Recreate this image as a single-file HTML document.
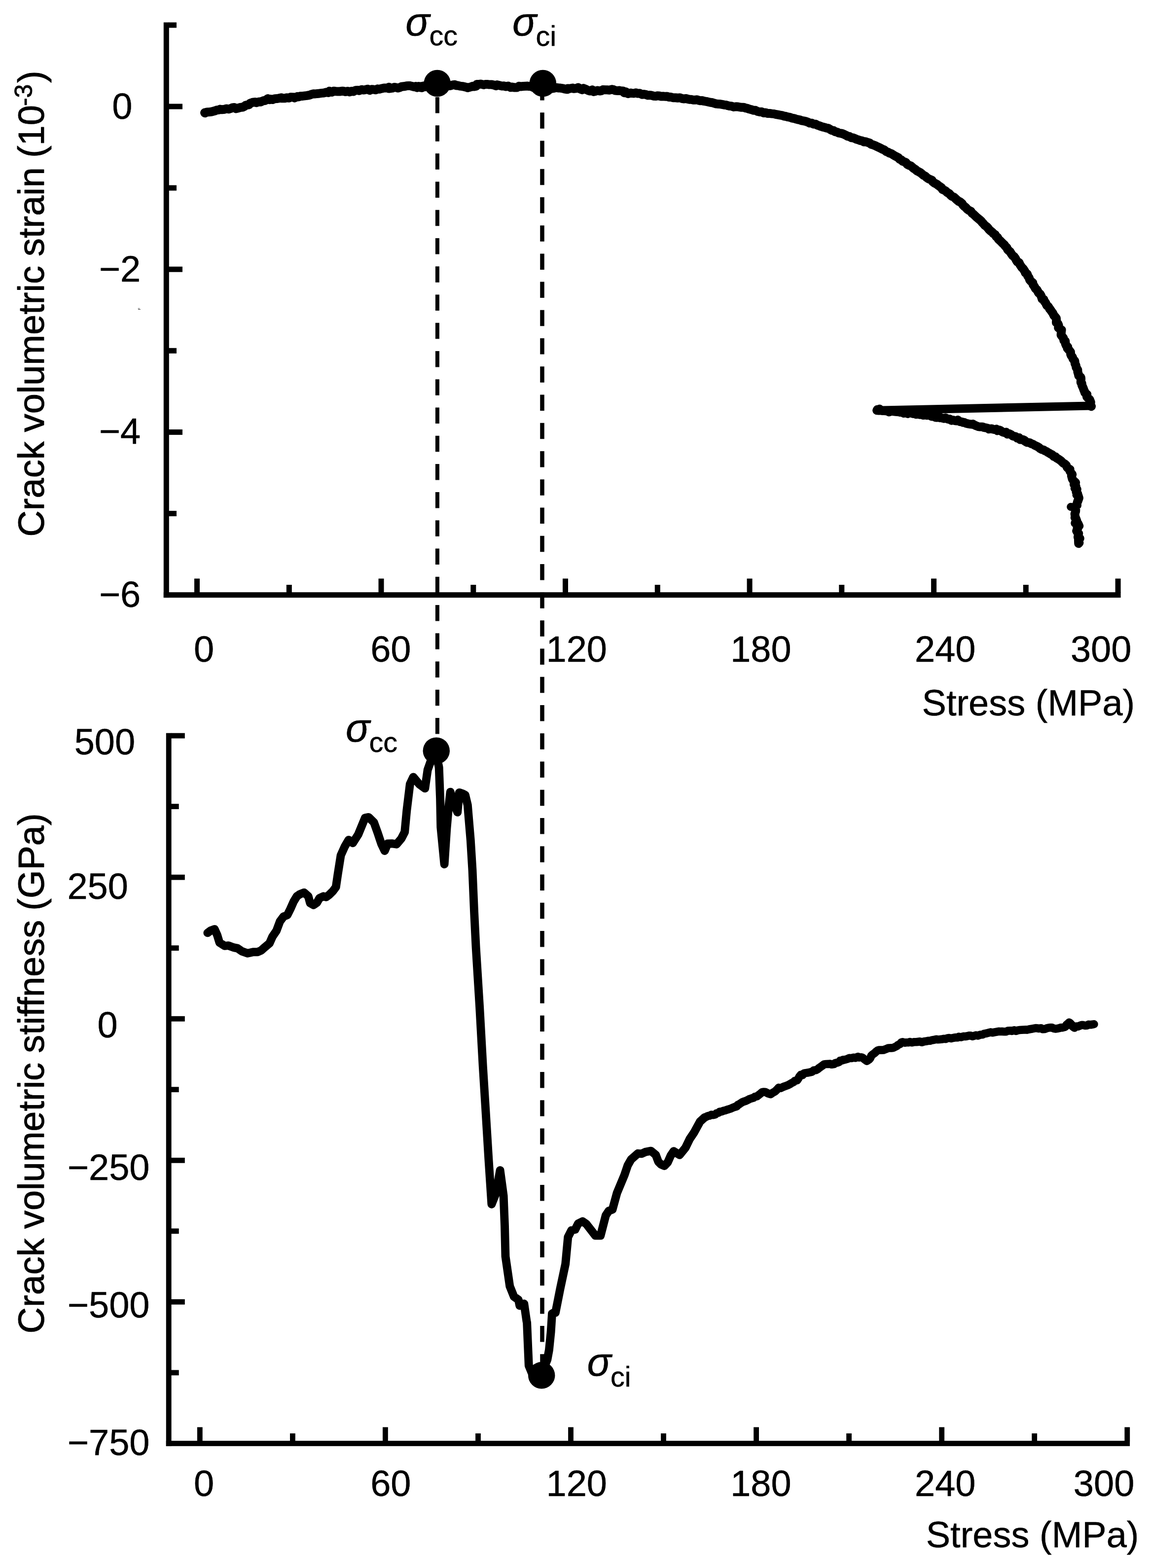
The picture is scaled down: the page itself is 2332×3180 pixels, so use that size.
<!DOCTYPE html>
<html lang="en"><head><meta charset="utf-8"><title>Crack volumetric strain and stiffness</title>
<style>html,body{margin:0;padding:0;background:#fff}body{width:2332px;height:3180px;overflow:hidden}svg{display:block}text{font-family:"Liberation Sans",Arial,Helvetica,sans-serif;fill:#000;stroke:#000;stroke-width:0.5px;stroke-linejoin:round}text.v{stroke-width:0.9px}text.f{stroke:none}</style></head><body>
<svg width="2332" height="3180" viewBox="0 0 2332 3180">
<rect width="2332" height="3180" fill="#fff"/>
<g fill="#000" shape-rendering="auto">
<rect x="331.8" y="45.4" width="11.0" height="1166.7"/>
<rect x="331.8" y="1201.1" width="1940.8" height="11.0"/>
<rect x="342.0" y="45.4" width="16.0" height="11.0"/>
<rect x="342.0" y="210.5" width="28.0" height="11.0"/>
<rect x="342.0" y="375.6" width="16.0" height="11.0"/>
<rect x="342.0" y="540.7" width="28.0" height="11.0"/>
<rect x="342.0" y="705.8" width="16.0" height="11.0"/>
<rect x="342.0" y="870.9" width="28.0" height="11.0"/>
<rect x="342.0" y="1036.0" width="16.0" height="11.0"/>
<rect x="394.0" y="1173.4" width="11.0" height="28.6"/>
<rect x="580.8" y="1186.0" width="11.0" height="16.0"/>
<rect x="767.5" y="1173.4" width="11.0" height="28.6"/>
<rect x="954.3" y="1186.0" width="11.0" height="16.0"/>
<rect x="1141.0" y="1173.4" width="11.0" height="28.6"/>
<rect x="1327.8" y="1186.0" width="11.0" height="16.0"/>
<rect x="1514.6" y="1173.4" width="11.0" height="28.6"/>
<rect x="1701.3" y="1186.0" width="11.0" height="16.0"/>
<rect x="1888.1" y="1173.4" width="11.0" height="28.6"/>
<rect x="2074.8" y="1186.0" width="11.0" height="16.0"/>
<rect x="2261.6" y="1173.4" width="11.0" height="28.6"/>
<rect x="336.8" y="1486.7" width="10.8" height="1446.1"/>
<rect x="336.8" y="2922.0" width="1954.3" height="10.8"/>
<rect x="347.0" y="1486.7" width="27.8" height="10.8"/>
<rect x="347.0" y="1630.2" width="15.7" height="10.8"/>
<rect x="347.0" y="1773.8" width="27.8" height="10.8"/>
<rect x="347.0" y="1917.3" width="15.7" height="10.8"/>
<rect x="347.0" y="2060.8" width="27.8" height="10.8"/>
<rect x="347.0" y="2204.3" width="15.7" height="10.8"/>
<rect x="347.0" y="2347.9" width="27.8" height="10.8"/>
<rect x="347.0" y="2491.4" width="15.7" height="10.8"/>
<rect x="347.0" y="2634.9" width="27.8" height="10.8"/>
<rect x="347.0" y="2778.5" width="15.7" height="10.8"/>
<rect x="399.9" y="2894.4" width="10.8" height="28.6"/>
<rect x="588.0" y="2907.0" width="10.8" height="16.0"/>
<rect x="776.0" y="2894.4" width="10.8" height="28.6"/>
<rect x="964.1" y="2907.0" width="10.8" height="16.0"/>
<rect x="1152.1" y="2894.4" width="10.8" height="28.6"/>
<rect x="1340.1" y="2907.0" width="10.8" height="16.0"/>
<rect x="1528.2" y="2894.4" width="10.8" height="28.6"/>
<rect x="1716.2" y="2907.0" width="10.8" height="16.0"/>
<rect x="1904.3" y="2894.4" width="10.8" height="28.6"/>
<rect x="2092.3" y="2907.0" width="10.8" height="16.0"/>
<rect x="2280.4" y="2894.4" width="10.8" height="28.6"/>
</g>
<g stroke="#000" fill="none">
<path d="M886.9,196.9 V1489" stroke-width="8" stroke-dasharray="32.5 24.73"/>
<path d="M1099.5,171 V2790" stroke-width="8.5" stroke-dasharray="32.5 24.73"/>
</g>
<g stroke="#000" fill="none" stroke-linejoin="round" stroke-linecap="round">
<path stroke-width="18" d="M415.1,228.6 L415.5,229.3 L419.4,227.5 L425.9,227.0 L429.4,226.5 L435.8,224.8 L439.9,223.2 L443.0,223.1 L446.2,221.6 L450.0,222.3 L455.3,221.7 L459.6,220.4 L463.5,221.3 L468.3,219.9 L471.4,218.4 L475.3,217.9 L478.6,220.4 L481.9,219.5 L488.1,217.8 L491.8,217.5 L496.0,215.5 L498.0,213.7 L501.2,212.8 L504.8,212.5 L507.3,209.5 L511.8,207.8 L518.0,207.0 L519.7,208.2 L525.0,206.4 L528.1,206.8 L530.6,205.8 L534.8,204.0 L537.7,204.0 L543.1,200.2 L546.7,202.2 L548.6,201.1 L552.6,202.0 L557.3,200.2 L561.1,200.1 L565.3,199.4 L571.3,198.2 L570.3,199.3 L577.5,199.3 L581.5,198.2 L586.1,198.7 L589.4,197.0 L595.5,197.3 L597.1,198.6 L603.0,195.8 L605.4,196.4 L609.9,194.9 L613.7,194.9 L620.1,194.1 L622.1,193.9 L627.7,192.9 L632.9,190.9 L635.9,190.2 L639.3,190.4 L645.7,189.8 L648.5,189.4 L652.2,188.9 L656.9,188.5 L660.8,187.3 L665.5,187.9 L668.1,184.8 L673.2,187.0 L676.7,184.8 L681.0,185.3 L684.5,185.5 L688.9,185.5 L693.1,184.8 L695.7,184.7 L700.8,186.1 L705.1,185.1 L709.1,186.5 L712.7,184.9 L716.5,185.5 L721.4,183.2 L725.2,182.9 L728.2,183.8 L733.7,181.7 L737.1,182.6 L740.5,182.1 L745.7,180.8 L749.5,183.2 L753.7,181.3 L757.4,181.5 L762.0,182.3 L765.9,180.3 L769.4,180.8 L773.3,179.7 L778.8,178.4 L784.7,178.6 L788.6,176.8 L788.8,179.6 L795.7,178.6 L799.5,177.0 L802.7,177.4 L806.9,178.5 L811.1,177.3 L814.4,175.8 L819.1,175.3 L824.1,174.3 L828.5,173.9 L831.9,174.1 L836.6,175.3 L839.7,176.3 L842.8,175.2 L845.5,177.6 L850.3,176.0 L855.7,177.9 L859.1,175.5 L864.2,175.0 L864.5,173.8 L864.3,175.8 L859.5,174.3 L852.6,175.7 L848.8,175.0 L851.1,176.6 L851.6,177.4 L852.9,176.7 L856.5,176.1 L860.3,176.1 L863.9,175.9 L869.7,175.2 L873.5,175.7 L877.2,175.6 L881.9,175.6 L887.2,173.8 L893.6,174.7 L899.4,174.5 L903.6,172.6 L909.4,173.5 L912.8,174.0 L918.3,172.2 L922.5,171.8 L924.9,173.5 L927.3,173.3 L932.6,174.6 L937.6,175.1 L940.8,175.8 L946.8,177.3 L948.2,178.0 L954.4,176.4 L958.5,174.8 L960.7,175.6 L965.5,174.6 L967.1,171.0 L972.2,170.8 L975.6,170.5 L980.6,172.0 L984.1,171.1 L987.8,170.9 L992.1,171.6 L996.4,171.4 L1002.1,172.6 L1006.0,174.2 L1008.3,172.1 L1014.6,173.8 L1017.8,174.5 L1022.1,174.3 L1026.2,175.6 L1030.6,174.5 L1035.6,177.3 L1037.6,176.5 L1043.6,177.5 L1048.0,177.6 L1052.5,174.7 L1056.2,175.5 L1060.5,175.0 L1065.8,174.7 L1069.7,174.5 L1072.2,175.0 L1075.2,175.0 L1079.5,176.2 L1081.9,177.6 L1087.1,177.3 L1091.8,178.6 L1095.7,177.3 L1097.7,178.4 L1103.8,178.6 L1108.4,179.1 L1112.3,178.5 L1116.1,175.8 L1120.6,179.3 L1123.4,178.9 L1127.8,177.7 L1133.0,178.5 L1136.3,178.6 L1141.5,179.4 L1144.2,180.3 L1150.4,181.3 L1151.5,179.5 L1155.0,179.8 L1161.2,178.5 L1163.3,179.8 L1169.3,179.0 L1172.5,177.6 L1176.2,180.3 L1180.8,182.1 L1183.4,179.2 L1188.6,181.4 L1192.3,183.3 L1196.5,184.6 L1201.2,182.3 L1204.1,185.9 L1207.4,185.0 L1211.6,183.6 L1217.0,184.6 L1219.4,184.0 L1222.5,182.1 L1228.6,182.3 L1230.9,182.3 L1236.1,182.8 L1240.6,181.3 L1243.0,181.6 L1247.3,183.5 L1252.8,184.1 L1255.6,183.6 L1259.9,184.5 L1263.0,184.4 L1266.1,188.2 L1269.2,186.4 L1273.6,189.9 L1279.2,188.6 L1281.5,189.1 L1285.1,189.4 L1289.6,188.2 L1293.3,189.6 L1297.2,189.2 L1302.2,191.7 L1305.6,191.1 L1310.0,191.9 L1313.3,193.4 L1317.1,193.0 L1321.2,193.5 L1325.1,194.7 L1330.0,195.1 L1333.1,194.3 L1336.8,194.5 L1340.8,195.6 L1345.5,195.3 L1348.5,195.7 L1352.7,195.6 L1356.5,196.9 L1360.1,196.7 L1364.8,198.2 L1370.1,198.2 L1374.4,198.7 L1378.7,198.3 L1383.0,199.9 L1386.2,200.5 L1391.1,199.8 L1394.6,200.9 L1398.3,201.7 L1401.6,201.8 L1405.9,202.7 L1409.4,202.7 L1413.4,202.3 L1417.4,203.7 L1420.4,204.3 L1423.6,204.0 L1428.0,205.2 L1432.3,205.8 L1435.2,206.5 L1440.7,207.7 L1443.6,208.0 L1447.5,209.1 L1452.3,210.6 L1456.8,210.9 L1460.0,211.1 L1463.2,211.7 L1468.4,212.7 L1472.1,212.9 L1476.0,214.3 L1479.9,215.1 L1483.0,215.2 L1487.7,216.9 L1492.1,216.3 L1496.6,216.6 L1500.8,217.3 L1503.9,217.8 L1508.3,217.8 L1512.2,219.2 L1515.9,219.9 L1520.1,221.4 L1524.3,222.5 L1528.4,223.8 L1532.0,223.8 L1535.5,225.7 L1540.0,226.9 L1544.2,226.8 L1548.6,229.1 L1552.3,228.4 L1556.1,229.9 L1560.4,229.9 L1565.2,230.6 L1569.0,230.9 L1572.8,231.9 L1577.3,232.7 L1581.2,233.4 L1585.7,234.1 L1589.8,235.5 L1593.6,236.0 L1597.1,237.1 L1601.6,237.8 L1605.2,239.3 L1611.0,240.3 L1613.8,241.4 L1617.5,242.4 L1621.5,243.1 L1626.0,244.7 L1629.9,245.3 L1634.1,246.3 L1638.4,247.8 L1642.0,249.6 L1646.3,249.8 L1650.0,251.8 L1653.6,251.7 L1657.7,254.0 L1661.6,255.2 L1665.1,256.5 L1669.3,257.8 L1672.5,258.5 L1676.4,259.8 L1679.8,260.1 L1683.2,262.4 L1686.5,264.3 L1690.6,264.9 L1693.7,267.2 L1697.9,268.0 L1700.8,269.7 L1705.1,270.4 L1708.3,271.1 L1712.3,272.8 L1716.1,274.6 L1718.9,276.4 L1722.9,277.0 L1726.3,279.2 L1729.7,279.5 L1733.5,280.9 L1737.0,282.6 L1740.9,283.6 L1743.8,284.9 L1748.1,285.6 L1751.9,287.8 L1754.9,287.2 L1759.6,288.9 L1763.7,290.2 L1766.5,292.6 L1770.8,293.9 L1774.3,295.2 L1777.6,296.8 L1782.3,299.0 L1785.5,300.5 L1789.7,302.8 L1793.0,304.0 L1797.1,307.3 L1800.8,308.7 L1803.7,310.5 L1807.0,311.4 L1810.7,313.7 L1814.3,316.0 L1817.6,317.6 L1822.0,320.0 L1824.3,322.9 L1827.7,324.3 L1830.6,327.2 L1833.1,327.9 L1837.0,329.6 L1839.8,333.4 L1843.2,335.1 L1847.1,336.7 L1850.1,339.2 L1852.7,341.5 L1856.4,343.7 L1859.3,346.5 L1863.4,348.6 L1866.0,350.0 L1868.9,352.2 L1872.7,355.5 L1876.3,357.3 L1878.8,359.7 L1882.3,362.2 L1886.2,363.9 L1889.8,365.5 L1891.1,368.2 L1894.7,371.1 L1899.4,373.3 L1902.2,375.8 L1905.0,377.8 L1909.3,380.7 L1911.1,384.2 L1914.7,385.7 L1917.8,387.4 L1920.4,390.1 L1925.1,392.8 L1927.5,395.6 L1930.3,398.2 L1934.0,399.6 L1937.6,402.8 L1940.3,405.3 L1944.2,408.5 L1946.6,409.2 L1951.0,412.9 L1952.7,415.8 L1955.7,418.7 L1958.4,420.7 L1961.4,424.3 L1964.9,426.8 L1968.8,428.5 L1971.0,432.2 L1974.2,434.6 L1977.6,437.9 L1979.9,440.2 L1983.5,443.2 L1986.2,445.3 L1989.8,448.5 L1991.9,451.3 L1994.6,454.1 L1996.9,456.9 L2000.6,459.5 L2003.4,462.5 L2006.1,466.1 L2008.6,468.3 L2012.3,471.1 L2014.1,473.3 L2018.2,476.2 L2020.1,479.7 L2022.9,481.4 L2024.6,485.1 L2027.8,487.9 L2030.9,491.0 L2032.9,493.1 L2036.8,496.7 L2038.2,498.9 L2041.6,502.2 L2043.3,506.1 L2046.5,509.1 L2048.2,510.4 L2050.9,514.8 L2053.5,518.4 L2056.5,520.6 L2059.1,524.1 L2061.0,527.9 L2062.8,530.9 L2066.5,532.5 L2068.1,536.4 L2069.9,539.2 L2072.2,542.5 L2074.8,545.0 L2078.1,550.0 L2079.4,553.5 L2083.1,555.7 L2084.1,559.7 L2086.8,563.3 L2088.0,567.5 L2090.7,570.6 L2094.2,573.3 L2095.0,577.5 L2097.4,580.8 L2099.8,585.3 L2102.4,587.4 L2104.4,590.8 L2105.9,593.8 L2109.4,596.7 L2111.4,600.5 L2113.2,606.2 L2116.6,607.5 L2117.5,610.6 L2120.1,613.7 L2122.7,619.3 L2126.1,622.2 L2128.6,626.8 L2129.2,626.8 L2132.4,631.7 L2134.6,634.5 L2137.4,640.2 L2139.1,641.9 L2141.9,645.2 L2142.2,649.1 L2142.0,654.2 L2145.3,656.5 L2146.7,659.9 L2146.2,664.6 L2149.0,666.8 L2152.6,669.1 L2152.0,673.8 L2151.6,679.4 L2153.3,681.7 L2156.4,685.6 L2157.4,690.5 L2160.2,692.0 L2160.6,697.2 L2162.2,700.8 L2165.1,703.4 L2164.5,706.2 L2168.1,710.3 L2170.9,713.8 L2171.1,718.3 L2172.4,721.4 L2174.8,724.4 L2175.8,727.7 L2178.9,731.6 L2179.5,732.2 L2179.9,737.3 L2181.8,741.4 L2182.3,745.1 L2185.4,750.2 L2185.4,754.2 L2186.6,757.8 L2187.5,762.2 L2191.7,765.1 L2192.1,768.2 L2191.8,775.6 L2193.8,777.6 L2193.9,781.2 L2196.3,786.3 L2198.1,791.5 L2199.2,793.4 L2199.9,796.3 L2204.2,799.9 L2203.9,804.7 L2207.8,808.5 L2209.6,810.3 L2211.8,815.6 L2210.2,822.6 L2213.0,824.2"/>
<path stroke-width="17.2" d="M2213,823 L1778.2,832.3"/>
<circle cx="1783.6" cy="828.9" r="8.4" fill="#000" stroke="none"/>
<path stroke-width="17.8" d="M1778.2,832.3 L1779.1,830.7 L1779.7,830.8 L1782.4,832.7 L1785.1,832.3 L1787.5,832.7 L1790.2,833.2 L1793.7,833.1 L1799.2,833.7 L1802.8,835.5 L1807.6,833.9 L1812.3,834.3 L1816.5,834.8 L1822.6,835.4 L1825.6,836.2 L1830.9,836.0 L1832.8,838.2 L1835.7,836.6 L1840.7,838.9 L1843.1,836.0 L1847.8,837.7 L1850.6,838.8 L1854.7,839.2 L1857.8,840.3 L1862.8,839.9 L1865.0,840.9 L1869.3,840.1 L1872.2,842.1 L1876.0,841.6 L1879.7,842.4 L1883.0,841.5 L1887.7,843.6 L1889.2,844.6 L1893.4,844.5 L1897.4,846.7 L1900.5,846.8 L1905.1,845.5 L1906.6,847.4 L1909.1,847.3 L1914.6,848.8 L1917.4,847.4 L1921.9,849.8 L1924.1,850.4 L1925.6,849.7 L1929.2,852.7 L1932.7,851.9 L1936.3,853.2 L1940.1,853.7 L1942.3,852.0 L1946.6,855.2 L1950.7,855.7 L1952.7,856.9 L1955.3,856.7 L1959.0,858.5 L1964.4,859.7 L1967.1,860.1 L1969.8,860.5 L1972.7,860.0 L1975.4,861.6 L1980.2,863.8 L1983.9,865.2 L1986.1,865.6 L1990.9,865.6 L1993.7,866.1 L1995.2,867.0 L1999.1,867.6 L2002.8,868.4 L2005.0,870.3 L2010.9,869.3 L2012.7,870.2 L2017.2,871.2 L2020.3,870.3 L2022.6,873.4 L2026.8,872.2 L2029.2,873.2 L2032.3,875.9 L2036.4,877.1 L2040.1,876.5 L2043.0,880.5 L2046.3,879.5 L2051.0,881.8 L2053.5,884.2 L2055.5,884.9 L2059.2,885.1 L2062.7,888.5 L2066.4,887.8 L2068.9,891.7 L2073.7,891.3 L2077.8,893.2 L2078.4,894.8 L2083.0,897.4 L2086.2,897.4 L2088.2,898.0 L2091.6,900.0 L2094.9,901.0 L2097.4,902.7 L2099.9,903.9 L2103.0,905.3 L2107.1,907.7 L2108.6,909.4 L2112.9,911.8 L2115.8,912.2 L2118.6,914.1 L2122.5,915.8 L2125.1,917.8 L2128.3,919.3 L2130.5,921.0 L2133.3,921.9 L2137.0,925.8 L2140.2,926.1 L2142.6,928.9 L2146.8,931.3 L2148.7,932.7 L2151.4,934.6 L2153.8,937.0 L2155.5,938.7 L2159.8,941.4 L2162.2,943.6 L2163.7,947.4 L2165.3,949.3 L2169.7,952.1 L2169.3,955.0 L2171.4,958.2 L2174.4,962.3 L2173.4,963.5 L2172.7,964.7 L2174.5,971.5 L2176.6,974.8 L2178.6,976.3 L2181.3,978.8 L2177.8,982.3 L2181.7,986.2 L2179.7,990.4 L2183.8,992.8 L2182.4,998.1 L2185.3,1001.2 L2183.4,1003.6 L2186.0,1003.6 L2188.0,1010.0 L2185.6,1016.7 L2185.6,1015.7 L2183.9,1021.4 L2184.1,1024.5 L2180.9,1026.6 L2180.5,1029.4 L2181.4,1034.0 L2181.2,1037.2 L2179.5,1042.1 L2180.4,1048.0 L2179.7,1049.9 L2181.6,1050.9 L2183.7,1056.8 L2180.1,1060.8 L2186.1,1061.8 L2188.3,1066.6 L2184.3,1070.5 L2185.9,1070.8 L2183.1,1076.7 L2185.5,1080.7 L2187.3,1082.1 L2185.9,1089.1 L2189.9,1091.9 L2186.8,1094.0 L2187.1,1102.3 L2188.6,1100.7"/>
<circle cx="2171.5" cy="1028" r="8.3" fill="#000" stroke="none"/>
<path stroke-width="16.9" d="M420.9,1891.9 L426.9,1887.4 L435.1,1884.4 L440.5,1896.5 L445.1,1911.6 L455.7,1918.3 L463.2,1917.7 L473.8,1921.6 L481.4,1923.1 L490.5,1929.2 L502.0,1933.4 L513.2,1930.7 L522.3,1930.7 L529.8,1927.4 L537.4,1920.7 L546.5,1913.1 L552.5,1899.5 L560.7,1887.4 L567.7,1868.6 L575.2,1858.7 L582.8,1855.6 L588.8,1843.5 L595.5,1828.4 L601.9,1817.8 L608.5,1813.3 L616.7,1810.2 L625.2,1817.8 L628.8,1831.4 L635.8,1835.4 L642.7,1830.5 L647.9,1821.4 L656.0,1817.8 L661.5,1819.3 L667.5,1814.8 L675.1,1807.2 L681.2,1799.0 L685.1,1772.4 L691.1,1734.6 L699.3,1716.4 L706.9,1703.4 L715.4,1709.7 L726.5,1692.2 L740.2,1658.9 L747.7,1657.4 L758.3,1668.0 L765.9,1689.2 L773.5,1711.9 L780.1,1725.5 L786.1,1711.0 L795.7,1710.8 L804.2,1712.2 L813.9,1700.6 L820.7,1687.3 L824.8,1643.7 L831.3,1590.4 L838.1,1575.9 L850.2,1590.4 L861.8,1598.9 L867.2,1561.4 L873.2,1544.4 L884.8,1529.9 L890.2,1556.5 L892.6,1619.5 L893.8,1677.6 L901.1,1752.7 L905.9,1680.0 L909.5,1638.9 L913.2,1606.2 L920.4,1629.2 L927.7,1647.3 L931.3,1607.4 L938.6,1609.8 L943.4,1612.2 L948.3,1632.8 L954.3,1704.2 L958.0,1764.8 L961.6,1850.0 L965.1,1921.1 L972.6,2042.1 L979.3,2163.2 L984.7,2250.0 L990.8,2349.9 L996.9,2442.2 L1005.9,2419.5 L1014.1,2373.5 L1021.1,2425.5 L1023.5,2486.1 L1025.0,2548.1 L1033.8,2608.7 L1042.3,2629.8 L1051.3,2635.9 L1053.8,2648.0 L1062.8,2644.1 L1068.0,2679.8 L1068.6,2682.3 L1072.3,2769.5 L1078.3,2784.0 L1098.2,2789.3 L1105.0,2769.5 L1109.8,2757.4 L1113.4,2738.0 L1117.1,2701.7 L1119.5,2664.2 L1125.5,2660.5 L1126.4,2662.2 L1136.1,2613.2 L1146.7,2563.3 L1151.8,2508.8 L1158.8,2495.2 L1166.3,2493.6 L1172.4,2481.5 L1181.5,2477.0 L1189.0,2482.4 L1207.2,2505.8 L1217.8,2505.8 L1228.4,2464.9 L1234.4,2455.8 L1242.0,2452.8 L1251.1,2419.5 L1266.2,2383.2 L1272.9,2363.5 L1279.8,2351.4 L1293.5,2339.3 L1301.0,2339.9 L1308.6,2336.3 L1320.1,2334.1 L1329.8,2342.3 L1334.9,2355.9 L1340.4,2361.4 L1347.3,2364.4 L1354.0,2357.4 L1360.0,2343.8 L1366.1,2334.7 L1378.2,2342.3 L1390.3,2327.2 L1398.4,2310.3 L1407.5,2296.7 L1419.6,2274.6 L1428.7,2266.4"/>
<path stroke-width="16.6" d="M1428.7,2266.4 L1432.8,2264.6 L1435.0,2263.3 L1439.5,2262.5 L1442.4,2260.7 L1447.2,2261.2 L1450.7,2260.1 L1452.8,2258.0 L1457.3,2256.6 L1459.1,2254.8 L1463.2,2254.3 L1466.6,2252.9 L1470.6,2252.0 L1474.7,2250.5 L1477.6,2249.7 L1482.4,2248.2 L1485.4,2246.7 L1488.8,2245.3 L1494.1,2243.7 L1495.7,2241.0 L1498.1,2240.0 L1501.3,2237.9 L1505.0,2235.4 L1508.9,2233.8 L1513.3,2232.3 L1516.2,2230.9 L1520.0,2228.8 L1523.8,2227.6 L1527.8,2226.5 L1530.9,2224.2 L1535.0,2223.4 L1539.1,2220.2 L1542.0,2218.0 L1545.4,2215.1 L1549.1,2214.6 L1552.2,2214.7 L1557.6,2217.6 L1562.4,2219.2 L1565.3,2217.3 L1568.0,2215.6 L1571.9,2213.3 L1573.1,2212.2 L1576.1,2209.3 L1579.0,2205.9 L1583.4,2206.7 L1585.7,2205.5 L1589.2,2203.9 L1593.1,2202.5 L1597.8,2200.7 L1601.2,2199.1 L1604.6,2196.8 L1609.4,2194.4 L1611.6,2192.1 L1616.5,2191.0 L1619.5,2186.4 L1620.9,2183.5 L1623.8,2179.9 L1627.4,2180.4 L1630.5,2176.6 L1633.9,2176.1 L1639.7,2175.2 L1642.5,2174.6 L1646.6,2173.6 L1650.0,2170.8 L1654.6,2170.3 L1658.3,2168.2 L1660.7,2166.1 L1664.4,2163.5 L1668.1,2160.9 L1671.3,2158.4 L1675.2,2158.0 L1680.1,2157.9 L1683.2,2157.5 L1686.2,2158.7 L1691.3,2158.0 L1693.6,2155.9 L1697.4,2155.3 L1701.9,2153.9 L1703.7,2151.0 L1707.9,2150.8 L1709.3,2149.2 L1712.3,2149.4 L1718.4,2147.6 L1722.2,2145.9 L1726.7,2146.0 L1731.2,2144.7 L1734.4,2145.5 L1739.8,2143.2 L1741.6,2144.8 L1746.5,2144.3 L1749.1,2145.0 L1752.6,2148.0 L1757.8,2151.8 L1762.0,2149.1 L1764.6,2146.3 L1766.1,2143.1 L1766.7,2141.2 L1770.0,2138.2 L1773.5,2135.7 L1775.9,2133.4 L1779.6,2130.5 L1782.9,2129.5 L1787.9,2129.6 L1791.6,2129.5 L1796.0,2127.8 L1800.6,2125.8 L1802.9,2125.5 L1807.3,2125.4 L1811.6,2124.9 L1815.6,2122.9 L1818.6,2121.4 L1820.8,2119.3 L1824.6,2117.7 L1827.8,2114.0 L1830.5,2113.3 L1834.4,2114.7 L1837.7,2114.2 L1841.9,2114.3 L1844.9,2113.0 L1849.0,2114.3 L1854.1,2113.2 L1857.6,2113.2 L1861.7,2112.9 L1865.4,2112.2 L1869.3,2113.7 L1873.9,2112.3 L1877.6,2111.8 L1881.9,2110.9 L1885.9,2110.8 L1889.4,2109.7 L1893.3,2109.0 L1898.4,2107.8 L1901.7,2108.2 L1905.6,2108.0 L1910.5,2107.6 L1913.7,2106.7 L1917.7,2107.1 L1921.5,2105.5 L1924.9,2105.1 L1928.8,2105.9 L1933.7,2104.7 L1938.2,2104.0 L1941.8,2104.3 L1944.4,2102.6 L1948.6,2103.5 L1953.7,2101.9 L1957.4,2102.0 L1960.5,2101.5 L1964.4,2100.4 L1967.8,2100.3 L1972.5,2101.7 L1977.6,2100.0 L1979.0,2099.5 L1983.3,2100.4 L1988.0,2098.5 L1992.4,2098.2 L1995.2,2096.6 L2000.2,2095.8 L2004.7,2094.6 L2008.9,2093.4 L2012.3,2094.3 L2016.9,2093.4 L2019.8,2092.8 L2025.0,2091.8 L2029.1,2092.0 L2032.7,2091.9 L2036.5,2092.3 L2040.1,2092.2 L2043.8,2090.5 L2048.6,2090.2 L2051.9,2090.9 L2056.7,2089.2 L2060.3,2090.9 L2064.6,2089.4 L2067.5,2089.1 L2071.2,2088.8 L2075.6,2088.5 L2080.3,2088.2 L2082.8,2088.6 L2086.9,2087.5 L2091.2,2086.8 L2094.5,2086.1 L2100.1,2085.1 L2102.6,2085.3 L2107.1,2085.9 L2111.2,2085.2 L2114.3,2087.2 L2118.8,2087.0 L2122.6,2085.3 L2126.1,2084.5 L2130.0,2084.1 L2133.2,2084.0 L2136.5,2085.8 L2141.2,2086.4 L2144.6,2085.8 L2147.8,2085.2 L2150.8,2084.1 L2154.6,2084.1 L2158.3,2083.1 L2161.1,2081.6 L2162.8,2078.1 L2165.9,2075.6 L2168.0,2073.5 L2170.3,2075.2 L2173.3,2078.4 L2175.1,2081.7 L2178.7,2084.5 L2182.3,2081.5 L2186.0,2081.8 L2189.7,2080.3 L2193.7,2078.7 L2197.1,2079.1 L2199.8,2079.9 L2204.4,2079.6 L2207.3,2077.8 L2211.9,2078.3 L2214.5,2077.7 L2218.4,2077.1"/>
</g>
<g fill="#000">
<circle cx="886.7" cy="169" r="27.2"/>
<circle cx="1100.8" cy="169" r="27.2"/>
<circle cx="884.8" cy="1522.6" r="27.2"/>
<circle cx="1098.2" cy="2789.3" r="27.2"/>
</g>
<text x="247.90" y="241.40" font-size="74" text-anchor="middle">0</text>
<text x="242.90" y="571.15" font-size="74" text-anchor="middle">−2</text>
<text x="242.90" y="900.25" font-size="74" text-anchor="middle">−4</text>
<text x="243.10" y="1230.55" font-size="74" text-anchor="middle">−6</text>
<text x="413.70" y="1342.15" font-size="74" text-anchor="middle">0</text>
<text x="792.30" y="1342.15" font-size="74" text-anchor="middle">60</text>
<text x="1169.30" y="1342.15" font-size="74" text-anchor="middle">120</text>
<text x="1542.90" y="1342.15" font-size="74" text-anchor="middle">180</text>
<text x="1916.80" y="1342.15" font-size="74" text-anchor="middle">240</text>
<text x="2232.70" y="1342.15" font-size="74" text-anchor="middle">300</text>
<text x="2085.40" y="1451.45" font-size="74" text-anchor="middle">Stress (MPa)</text>
<text x="212.40" y="1529.60" font-size="74" text-anchor="middle">500</text>
<text x="198.20" y="1823.25" font-size="74" text-anchor="middle">250</text>
<text x="218.10" y="2104.25" font-size="74" text-anchor="middle">0</text>
<text x="220.20" y="2392.70" font-size="74" text-anchor="middle">−250</text>
<text x="220.20" y="2671.50" font-size="74" text-anchor="middle">−500</text>
<text x="220.20" y="2950.70" font-size="74" text-anchor="middle">−750</text>
<text x="413.70" y="3033.50" font-size="74" text-anchor="middle">0</text>
<text x="792.30" y="3033.50" font-size="74" text-anchor="middle">60</text>
<text x="1169.30" y="3033.50" font-size="74" text-anchor="middle">120</text>
<text x="1542.90" y="3033.50" font-size="74" text-anchor="middle">180</text>
<text x="1916.80" y="3033.50" font-size="74" text-anchor="middle">240</text>
<text x="2238.60" y="3033.50" font-size="74" text-anchor="middle">300</text>
<text x="2093.60" y="3137.75" font-size="74" text-anchor="middle">Stress (MPa)</text>
<text x="822.35" y="71.95" font-size="81.5" font-style="italic">σ</text>
<text x="870.40" y="92.15" font-size="57.5">cc</text>
<text x="1038.90" y="71.65" font-size="81.5" font-style="italic">σ</text>
<text x="1086.40" y="93.30" font-size="57.5">ci</text>
<text x="701.10" y="1504.20" font-size="81.5" font-style="italic">σ</text>
<text x="748.55" y="1524.85" font-size="57.5">cc</text>
<text x="1190.40" y="2790.15" font-size="81.5" font-style="italic">σ</text>
<text x="1237.90" y="2812.10" font-size="57.5">ci</text>
<text class="v" font-size="74" word-spacing="-1.5" transform="translate(88.90,1088.60) rotate(-90)">Crack volumetric strain (10</text>
<text class="v" font-size="50" word-spacing="0" transform="translate(65.00,215.10) rotate(-90)">-3</text>
<text class="v" font-size="74" word-spacing="0" transform="translate(88.90,167.90) rotate(-90)">)</text>
<text class="v" font-size="74" word-spacing="-1.5" transform="translate(88.90,2704.40) rotate(-90)">Crack volumetric stiffness (GPa)</text>
<text class="f" font-size="6.5" fill="#6a6a6a" transform="translate(285.1,628.3) rotate(-90)">F</text>
</svg></body></html>
